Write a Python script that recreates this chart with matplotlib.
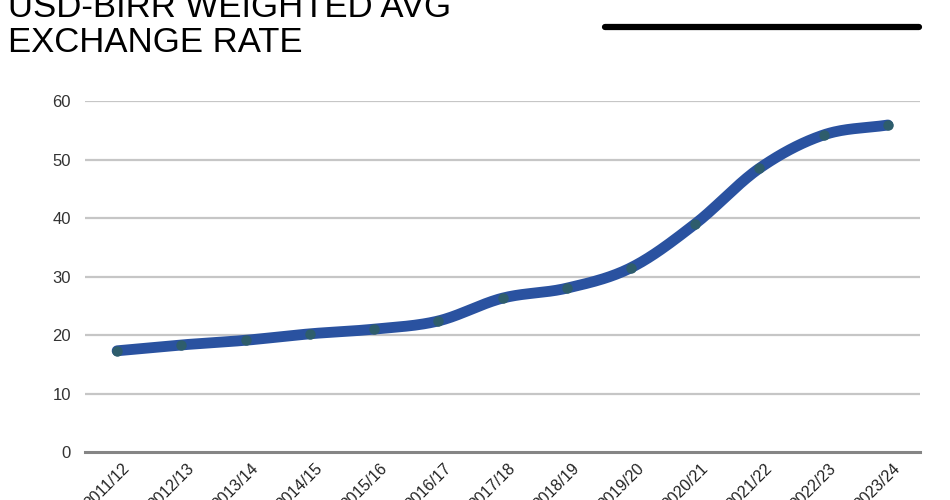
import numpy as np
import matplotlib
matplotlib.use("Agg")
import matplotlib.pyplot as plt
import matplotlib.transforms as mtransforms

years = ["2011/12", "2012/13", "2013/14", "2014/15", "2015/16", "2016/17", "2017/18",
         "2018/19", "2019/20", "2020/21", "2021/22", "2022/23", "2023/24"]
rates = [17.3, 18.3, 19.1, 20.2, 21.0, 22.4, 26.3, 28.0, 31.5, 39.0, 48.5, 54.2, 55.9]
yticks = [0, 10, 20, 30, 40, 50, 60]
title = "USD-BIRR WEIGHTED AVG\nEXCHANGE RATE"

plt.rcParams['font.family'] = ['Liberation Sans', 'DejaVu Sans']

def catmull_rom(x, y, n=30):
    x = np.asarray(x, float); y = np.asarray(y, float)
    px = np.concatenate([[2*x[0]-x[1]], x, [2*x[-1]-x[-2]]])
    py = np.concatenate([[2*y[0]-y[1]], y, [2*y[-1]-y[-2]]])
    xs, ys = [], []
    t = np.linspace(0, 1, n, endpoint=False)
    for i in range(1, len(px)-2):
        for P, out in ((px, xs), (py, ys)):
            p0, p1, p2, p3 = P[i-1], P[i], P[i+1], P[i+2]
            out.append(0.5*((2*p1) + (-p0+p2)*t + (2*p0-5*p1+4*p2-p3)*t**2 + (-p0+3*p1-3*p2+p3)*t**3))
    xs = np.concatenate(xs + [[x[-1]]]); ys = np.concatenate(ys + [[y[-1]]])
    return xs, ys

fig = plt.figure(figsize=(9.5, 5), dpi=100)
ax = fig.add_axes([85/950, 1-452/500, (920-85)/950, (452-101)/500])

xi = np.arange(len(years))
sx, sy = catmull_rom(xi, rates)
ax.plot(sx, sy, color="#2a52a0", lw=7.8, solid_capstyle="round", zorder=3, clip_on=False)
ax.plot(xi, rates, "o", color="#2e5d6c", ms=7.5, mec="none", zorder=4, clip_on=False)

ax.set_xlim(-0.5, len(years)-0.5)
ax.set_ylim(0, 60)
ax.set_yticks(yticks)
ax.set_xticks(xi)
ax.tick_params(axis="both", length=0)
ax.tick_params(axis="y", pad=10)
ax.tick_params(axis="x", pad=6.5)
ax.set_yticklabels([str(v) for v in yticks], fontsize=12, color="#333333")
ax.set_xticklabels(years, rotation=45, ha="right", va="top", fontsize=11.5, color="#222222",
                   rotation_mode="anchor")
offset = mtransforms.ScaledTranslation(5/100, 0, fig.dpi_scale_trans)
for lab in ax.get_xticklabels():
    lab.set_transform(lab.get_transform() + offset)
for s in ax.spines.values():
    s.set_visible(False)
for v in yticks[1:]:
    ax.axhline(v, color="#c6c6c6", lw=1.6, zorder=1)
ax.axhline(0, color="#858585", lw=2.2, zorder=2, clip_on=False)

fig.text(8/950, 1-52/500, title, fontsize=25, ha="left", va="baseline", linespacing=1.07,
         color="#000000")
fig.add_artist(plt.Line2D([605/950, 919/950], [1-27/500, 1-27/500], color="black", lw=4.5,
                          solid_capstyle="round"))

fig.savefig("out.png", dpi=100)
